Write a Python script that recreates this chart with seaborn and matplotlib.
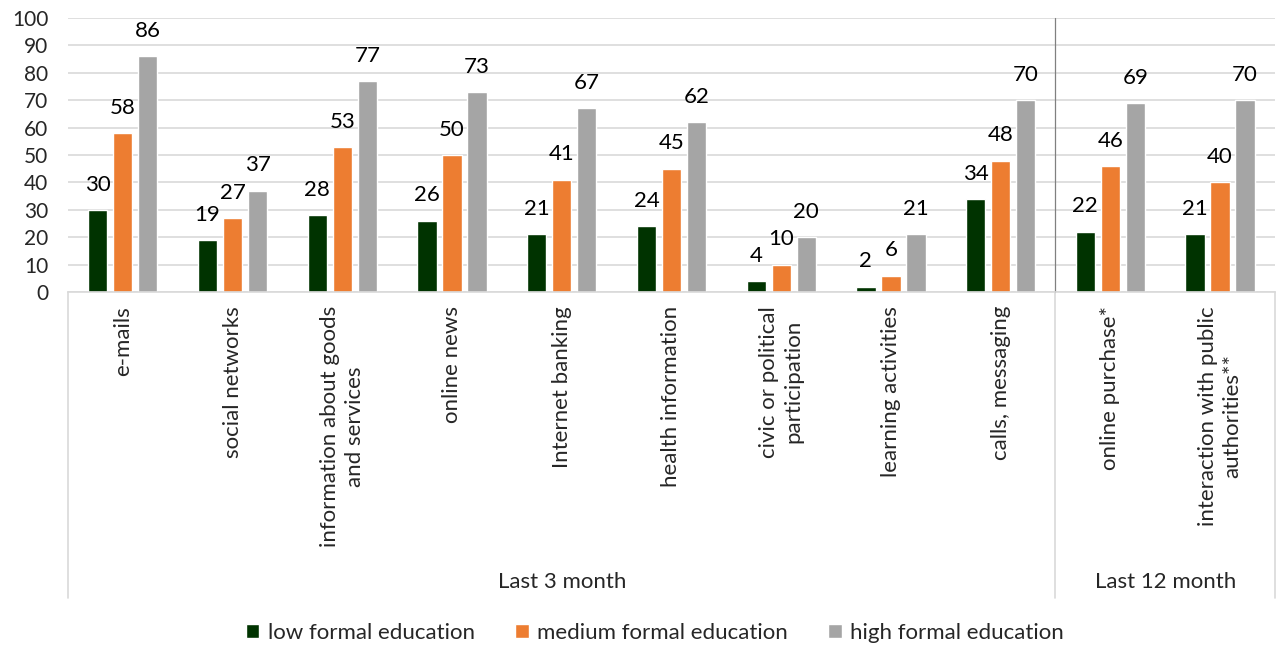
import pandas as pd
import matplotlib.pyplot as plt
import matplotlib.transforms as mtransforms
from matplotlib.patches import Patch
import seaborn as sns

categories = ['e-mails', 'social networks', 'information about goods\nand services',
              'online news', 'Internet banking', 'health information',
              'civic or political\nparticipation', 'learning activities',
              'calls, messaging', 'online purchase*',
              'interaction with public\nauthorities**']
series = ['low formal education', 'medium formal education', 'high formal education']
low_vals = [30, 19, 28, 26, 21, 24, 4, 2, 34, 22, 21]
medium_vals = [58, 27, 53, 50, 41, 45, 10, 6, 48, 46, 40]
high_vals = [86, 37, 77, 73, 67, 62, 20, 21, 70, 69, 70]
groups = ['Last 3 month', 'Last 12 month']
group_sizes = [9, 2]
colors = ['#003300', '#ED7D31', '#A5A5A5']

df = pd.DataFrame({
    'category': categories * 3,
    'series': [s for s in series for _ in categories],
    'value': low_vals + medium_vals + high_vals,
})

sns.set_style('white')
plt.rcParams['font.family'] = ['Lato', 'DejaVu Sans']
plt.rcParams['font.size'] = 14

fig = plt.figure(figsize=(12.77, 6.46), dpi=100)
ax = fig.add_axes([0.0532, 0.548, 0.9452, 0.424])

sns.barplot(data=df, x='category', y='value', hue='series', order=categories,
            hue_order=series, palette=colors, width=0.684, gap=0.23,
            saturation=1, legend=False, ax=ax)

for cont in ax.containers:
    ax.bar_label(cont, padding=11, fontsize=16, color='#000000')

ax.set_xlim(-0.5, len(categories) - 0.5)
ax.set_ylim(0, 100)
ax.set_yticks(range(0, 101, 10))
ax.yaxis.grid(True, color='#D9D9D9', lw=1.2)
ax.set_axisbelow(True)
for s in ['left', 'right', 'top']:
    ax.spines[s].set_visible(False)
ax.spines['bottom'].set_color('#D9D9D9')
ax.spines['bottom'].set_linewidth(1.2)
ax.tick_params(axis='y', length=0, labelsize=15, pad=14)
ax.tick_params(axis='x', length=0, pad=10)
ax.set_xlabel('')
ax.set_ylabel('')
ax.set_xticks(range(len(categories)))
ax.set_xticklabels(categories, rotation=90, ha='center', va='top',
                   multialignment='center', fontsize=16, linespacing=1.3)

# group dividers and labels below the axis
trans = mtransforms.blended_transform_factory(ax.transData, ax.transAxes)
start = 0
bounds = [-0.5]
for g, n in zip(groups, group_sizes):
    center = start + (n - 1) / 2
    ax.text(center, -1.058, g, transform=trans, ha='center', va='center', fontsize=16)
    start += n
    bounds.append(start - 0.5)
for b in bounds:
    ax.plot([b, b], [0, -1.117], transform=trans, color='#D9D9D9', lw=1.2, clip_on=False)
ax.plot([8.5, 8.5], [0, 1], transform=trans, color='#808080', lw=0.9, clip_on=False)

handles = [Patch(facecolor=c, label=s) for c, s in zip(colors, series)]
fig.legend(handles=handles, loc='center', bbox_to_anchor=(0.513, 0.02), ncol=3,
           frameon=False, fontsize=16, handlelength=0.6, handleheight=0.6,
           handletextpad=0.4, columnspacing=1.8)

fig.savefig('out.png', dpi=100)
